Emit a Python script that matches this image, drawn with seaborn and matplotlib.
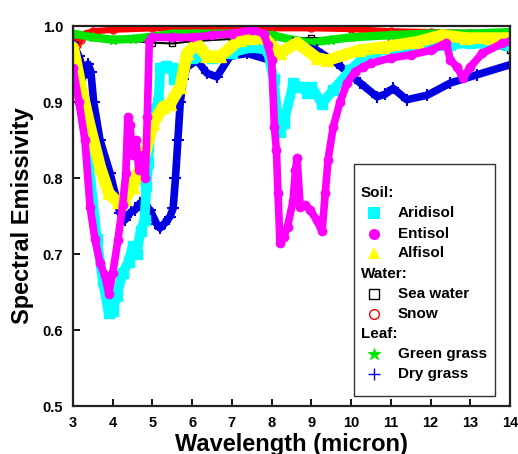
import matplotlib
matplotlib.use("Agg")
import matplotlib.pyplot as plt
import seaborn as sns
import pandas as pd

# ---- spectral emissivity samples (wavelength in micron) ----
aridisol_wl = [3.0, 3.2, 3.4, 3.6, 3.75, 3.9, 4.0, 4.1, 4.25, 4.4, 4.5, 4.6, 4.7, 4.8, 4.85,
               4.9, 4.95, 5.05, 5.15, 5.2, 5.35, 5.5, 5.55, 5.7, 5.85, 6.0, 6.5, 7.0, 7.5,
               7.9, 8.05, 8.15, 8.22, 8.3, 8.55, 8.72, 8.9, 9.0, 9.27, 9.55, 9.98, 10.3,
               10.6, 11.0, 11.5, 12.0, 12.5, 13.0, 13.5, 14.0]
aridisol_em = [0.955, 0.905, 0.82, 0.72, 0.665, 0.622, 0.625, 0.645, 0.675, 0.69, 0.71, 0.70,
               0.73, 0.745, 0.79, 0.82, 0.875, 0.89, 0.90, 0.945, 0.948, 0.945, 0.93, 0.935,
               0.96, 0.958, 0.958, 0.965, 0.972, 0.968, 0.93, 0.88, 0.86, 0.872, 0.925, 0.92,
               0.912, 0.92, 0.898, 0.916, 0.942, 0.958, 0.966, 0.97, 0.97, 0.972, 0.975,
               0.978, 0.975, 0.975]

entisol_wl = [3.0, 3.15, 3.3, 3.43, 3.55, 3.68, 3.8, 3.9, 4.0, 4.13, 4.25, 4.33, 4.38, 4.43,
              4.5, 4.58, 4.66, 4.75, 4.82, 4.87, 4.92, 5.0, 5.5, 6.0, 6.5, 7.0, 7.5, 7.8,
              7.9, 8.0, 8.07, 8.12, 8.16, 8.21, 8.3, 8.4, 8.54, 8.6, 8.64, 8.72, 8.85, 8.97,
              9.13, 9.27, 9.35, 9.42, 9.55, 9.72, 9.9, 10.1, 10.3, 10.5, 11.0, 11.5, 12.0,
              12.3, 12.4, 12.5, 12.67, 12.82, 13.0, 13.3, 13.8, 14.0]
entisol_em = [0.945, 0.9, 0.85, 0.762, 0.72, 0.688, 0.672, 0.648, 0.675, 0.718, 0.765, 0.806,
              0.88, 0.87, 0.83, 0.85, 0.81, 0.83, 0.80, 0.88, 0.98, 0.985, 0.985, 0.985,
              0.988, 0.99, 0.995, 0.99, 0.975, 0.955, 0.867, 0.837, 0.78, 0.714, 0.722,
              0.736, 0.77, 0.81, 0.826, 0.762, 0.765, 0.758, 0.745, 0.73, 0.78, 0.824,
              0.867, 0.9, 0.925, 0.94, 0.946, 0.951, 0.958, 0.962, 0.968, 0.975, 0.977,
              0.955, 0.946, 0.931, 0.946, 0.964, 0.977, 0.98]

alfisol_wl = [3.0, 3.18, 3.43, 3.68, 3.9, 4.13, 4.3, 4.5, 4.77, 5.02, 5.27, 5.45, 5.7, 5.87,
              6.12, 6.37, 6.7, 7.2, 7.5, 7.8, 8.2, 8.64, 9.14, 9.4, 10.2, 10.8, 11.66, 12.3,
              12.9, 13.5, 14.0]
alfisol_em = [0.972, 0.925, 0.867, 0.815, 0.78, 0.768, 0.772, 0.788, 0.824, 0.872, 0.894,
              0.898, 0.92, 0.964, 0.977, 0.96, 0.96, 0.982, 0.984, 0.985, 0.964, 0.978,
              0.958, 0.955, 0.968, 0.972, 0.979, 0.988, 0.984, 0.984, 0.984]

seawater_wl = [3.0, 4.0, 5.0, 5.5, 6.0, 7.0, 8.0, 9.0, 10.0, 11.0, 12.0, 13.0, 13.5, 14.0]
seawater_em = [0.985, 0.983, 0.978, 0.977, 0.98, 0.983, 0.985, 0.984, 0.985, 0.984, 0.982,
               0.978, 0.972, 0.968]

snow_wl = [3.0, 3.05, 3.1, 3.2, 3.3, 3.5, 4.0, 5.0, 6.0, 7.0, 8.0, 9.0, 10.0, 11.0, 12.0,
           13.0, 14.0]
snow_em = [0.99, 0.982, 0.975, 0.982, 0.99, 0.993, 0.995, 0.997, 0.997, 0.997, 0.997, 0.997,
           0.996, 0.993, 0.992, 0.991, 0.99]

greengrass_wl = [3.0, 3.5, 4.0, 4.5, 5.0, 5.5, 6.0, 7.0, 8.0, 8.5, 9.0, 9.5, 10.0, 11.0,
                 12.0, 13.0, 14.0]
greengrass_em = [0.99, 0.985, 0.982, 0.983, 0.986, 0.99, 0.99, 0.99, 0.988, 0.982, 0.978,
                 0.982, 0.985, 0.988, 0.99, 0.99, 0.992]

drygrass_wl = [3.0, 3.15, 3.3, 3.38, 3.45, 3.52, 3.68, 3.93, 4.1, 4.18, 4.31, 4.45, 4.56,
               4.69, 4.8, 4.94, 5.1, 5.19, 5.3, 5.44, 5.52, 5.58, 5.64, 5.7, 5.78, 5.87,
               6.12, 6.37, 6.62, 6.95, 7.38, 7.96, 8.54, 9.14, 9.64, 10.23, 10.65, 10.85,
               11.06, 11.4, 11.92, 12.5, 13.18, 14.0]
drygrass_em = [0.977, 0.96, 0.935, 0.95, 0.94, 0.9, 0.85, 0.807, 0.771, 0.754, 0.745, 0.755,
               0.758, 0.767, 0.765, 0.758, 0.74, 0.734, 0.74, 0.749, 0.76, 0.8, 0.85, 0.9,
               0.93, 0.946, 0.955, 0.938, 0.933, 0.96, 0.964, 0.955, 0.977, 0.968, 0.951,
               0.925, 0.907, 0.91, 0.918, 0.903, 0.909, 0.925, 0.936, 0.949]

x_ticks = [3, 4, 5, 6, 7, 8, 9, 10, 11, 12, 13, 14]
y_ticks = [0.5, 0.6, 0.7, 0.8, 0.9, 1.0]

sns.set_style("ticks")
plt.rcParams["font.family"] = ["Liberation Sans", "DejaVu Sans"]
plt.rcParams["font.weight"] = "bold"
plt.rcParams["text.color"] = "black"
plt.rcParams["axes.labelcolor"] = "black"
plt.rcParams["xtick.color"] = "black"
plt.rcParams["ytick.color"] = "black"

fig = plt.figure(figsize=(5.18, 4.54), dpi=100)
ax = fig.add_axes([73 / 518, 48 / 454, 437 / 518, 380 / 454])


def draw(wl, em, color, marker, lw, ms, hollow=False, mew=1.0):
    df = pd.DataFrame({"wl": wl, "em": em})
    kws = dict(marker=marker, markersize=ms, markeredgecolor=color,
               markeredgewidth=mew, linewidth=lw, color=color)
    if hollow:
        kws["markerfacecolor"] = "none"
    sns.lineplot(data=df, x="wl", y="em", ax=ax, legend=False, **kws)


# draw order: water and leaf bands first, soils on top
draw(seawater_wl, seawater_em, "black", "s", 1.5, 5, hollow=True)
draw(snow_wl, snow_em, "#ff0000", "o", 4.5, 5, hollow=True)
draw(greengrass_wl, greengrass_em, "#00e600", "*", 6, 7)
draw(drygrass_wl, drygrass_em, "#0000e0", "+", 5.5, 8, mew=1.5)
draw(aridisol_wl, aridisol_em, "#00ffff", "s", 7, 7)
draw(alfisol_wl, alfisol_em, "#ffff00", "^", 8.5, 8)
draw(entisol_wl, entisol_em, "#ff00ff", "o", 5.5, 6)

ax.set_xlim(3, 14)
ax.set_ylim(0.5, 1.0)
ax.set_xticks(x_ticks)
ax.set_yticks(y_ticks)
ax.set_xticklabels([str(t) for t in x_ticks], fontsize=10.5, fontweight="bold")
ax.set_yticklabels([f"{t:.1f}" for t in y_ticks], fontsize=10.5, fontweight="bold")
ax.tick_params(direction="in", length=5, width=1.3, pad=7, colors="black",
               top=False, right=False)
for sp in ax.spines.values():
    sp.set_visible(True)
    sp.set_linewidth(1.6)
    sp.set_color("#222222")
ax.set_xlabel("Wavelength (micron)", fontsize=17, fontweight="bold", labelpad=2,
              color="black")
ax.set_ylabel("Spectral Emissivity", fontsize=17, fontweight="bold", labelpad=6,
              color="black")

# grouped key box
def ax_x(px):
    return (px - 73) / 437


def ax_y(py):
    return (406 - py) / 380


box = plt.Rectangle((ax_x(354), ax_y(396)), ax_x(495) - ax_x(354), ax_y(164) - ax_y(396),
                    transform=ax.transAxes, facecolor="white", edgecolor="#333333",
                    linewidth=1.0, zorder=5)
ax.add_patch(box)

rows = [
    ("Soil:", None),
    ("Aridisol", dict(marker="s", color="#00ffff", ms=8, mfc="#00ffff", mew=0)),
    ("Entisol", dict(marker="o", color="#ff00ff", ms=8, mfc="#ff00ff", mew=0)),
    ("Alfisol", dict(marker="^", color="#ffff00", ms=9, mfc="#ffff00", mew=0)),
    ("Water:", None),
    ("Sea water", dict(marker="s", color="black", ms=7, mfc="none", mew=1.0)),
    ("Snow", dict(marker="o", color="#ff0000", ms=7, mfc="none", mew=1.0)),
    ("Leaf:", None),
    ("Green grass", dict(marker="*", color="#00e600", ms=9, mfc="#00e600", mew=0.8)),
    ("Dry grass", dict(marker="+", color="#0000e0", ms=9, mfc="#0000e0", mew=1.0)),
]
row_y = [193, 213, 234, 253, 274, 294, 314, 334, 354, 374]
for (label, style), py in zip(rows, row_y):
    y = ax_y(py)
    if style is None:
        ax.text(ax_x(361), y, label, transform=ax.transAxes, fontsize=11,
                fontweight="bold", va="center", ha="left", zorder=6, color="black")
    else:
        ax.plot([ax_x(374)], [y], transform=ax.transAxes, linestyle="none",
                marker=style["marker"], color=style["color"], markersize=style["ms"],
                markerfacecolor=style["mfc"], markeredgecolor=style["color"],
                markeredgewidth=style["mew"], zorder=6, clip_on=False)
        ax.text(ax_x(398), y, label, transform=ax.transAxes, fontsize=11,
                fontweight="bold", va="center", ha="left", zorder=6, color="black")

fig.savefig("out.png", dpi=100)
